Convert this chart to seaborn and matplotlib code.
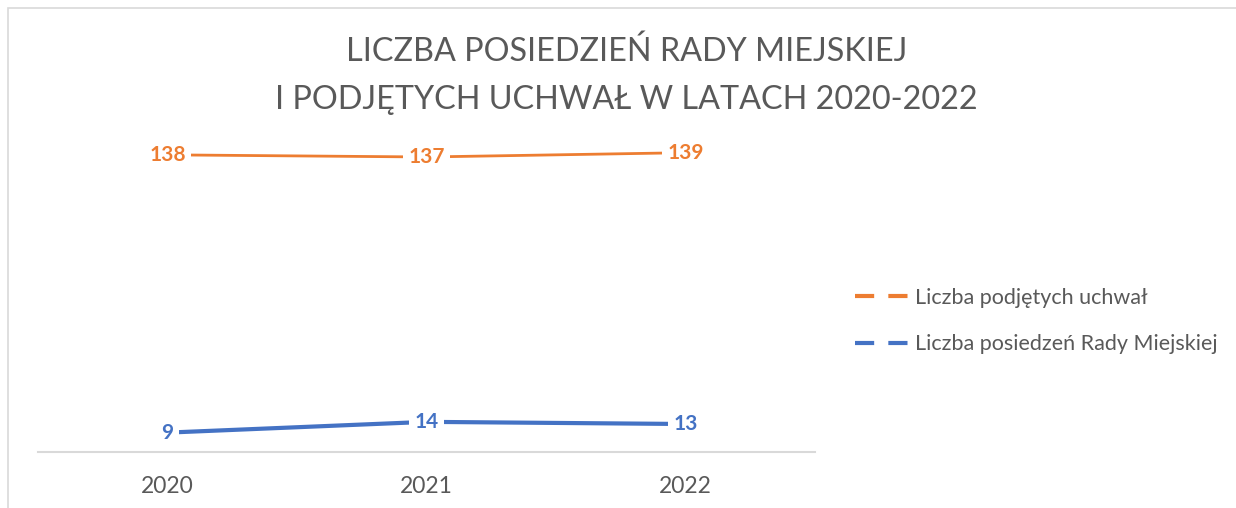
import matplotlib
matplotlib.use('Agg')
import matplotlib.pyplot as plt
from matplotlib.lines import Line2D
from matplotlib.patches import Rectangle
import pandas as pd
import seaborn as sns

years = ['2020', '2021', '2022']
uchwaly = [138, 137, 139]
posiedzenia = [9, 14, 13]
series_names = ['Liczba podjętych uchwał', 'Liczba posiedzeń Rady Miejskiej']
colors = ['#ED7D31', '#4472C4']

df = pd.DataFrame({
    'rok': years * 2,
    'wartosc': uchwaly + posiedzenia,
    'seria': [series_names[0]] * 3 + [series_names[1]] * 3,
})

sns.set_style('white')
plt.rcParams['font.family'] = ['Lato', 'DejaVu Sans']
gray = '#595959'

fig = plt.figure(figsize=(12.36, 5.08), dpi=100)
fig.patch.set_facecolor('white')
# chart frame
fig.add_artist(Rectangle((8 / 1236, -0.1), 1.2, 1 + 0.1 - 8 / 508, transform=fig.transFigure,
                         fill=False, edgecolor='#d9d9d9', linewidth=1.2))

ax = fig.add_axes([38 / 1236, 56 / 508, 777 / 1236, 323 / 508])
sns.lineplot(data=df, x='rok', y='wartosc', hue='seria', palette=colors, ax=ax,
             legend=False, sort=False)
for line, lw in zip(ax.get_lines(), [2.0, 3.0]):
    line.set_linewidth(lw)

ax.set_xlim(-0.5, 2.5)
ax.set_ylim(0, 150)
ax.set_xlabel('')
ax.set_ylabel('')
ax.set_yticks([])
for side in ['top', 'right', 'left']:
    ax.spines[side].set_visible(False)
ax.spines['bottom'].set_color('#d9d9d9')
ax.spines['bottom'].set_linewidth(1.5)
ax.tick_params(axis='x', length=0, pad=17, labelsize=16.5, labelcolor=gray)

for vals, col in zip([uchwaly, posiedzenia], colors):
    for i, v in enumerate(vals):
        ax.text(i, v, str(v), ha='center', va='center', fontsize=15, fontweight='bold',
                color=col, bbox=dict(boxstyle='square,pad=0.25', fc='white', ec='none'),
                zorder=5)

fig.text(0.507, 1 - 52 / 508, 'LICZBA POSIEDZIEŃ RADY MIEJSKIEJ', ha='center', va='center',
         fontsize=23.3, color=gray)
fig.text(0.507, 1 - 100 / 508, 'I PODJĘTYCH UCHWAŁ W LATACH 2020-2022', ha='center', va='center',
         fontsize=23.3, color=gray)

handles = [Line2D([], [], color=c, linewidth=3, dashes=(4.6, 3.4)) for c in colors]
fig.legend(handles, series_names, loc='center left', bbox_to_anchor=(836 / 1236, 1 - 321 / 508),
           frameon=False, fontsize=15.5, labelcolor=gray, handlelength=2.45,
           handletextpad=0.3, labelspacing=1.25)

fig.savefig('out.png', dpi=100, facecolor='white')
